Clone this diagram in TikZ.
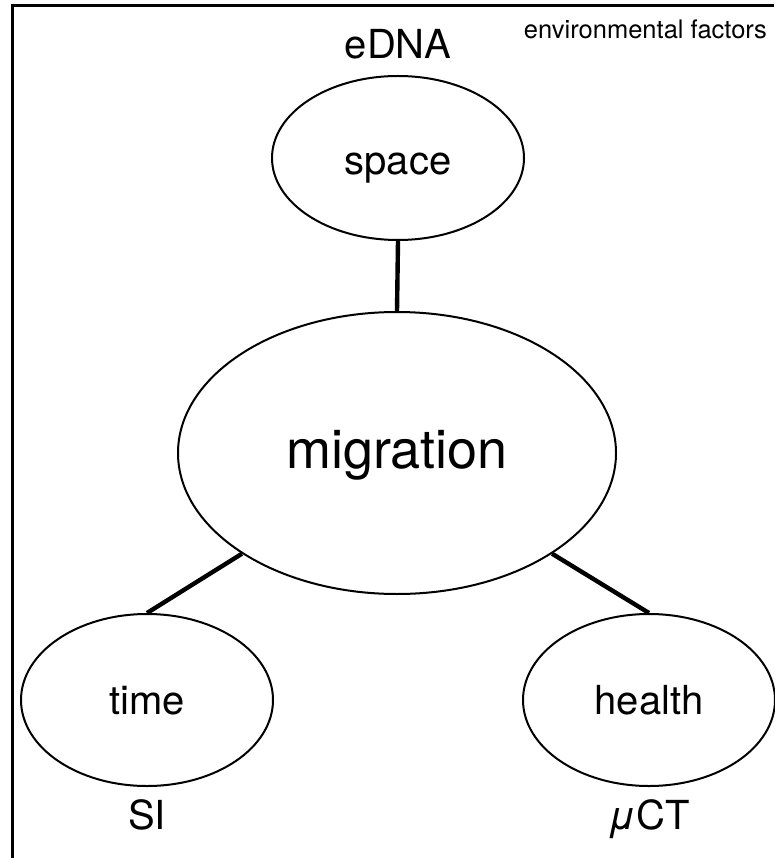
\documentclass[tikz,border=0pt]{standalone}
\usepackage{fontspec}
\setmainfont{TeX Gyre Heros}
\usepackage{tikz}
\usetikzlibrary{shapes.geometric, positioning}

\tikzset{
    factor/.style={draw, ellipse, line width=2pt, inner sep=0pt,
        minimum width=252pt, minimum height=172pt, text height=28pt, text depth=0pt,
        font=\fontsize{40}{44}\selectfont},
    method/.style={inner sep=0pt, font=\fontsize{40}{44}\selectfont},
    link/.style={line width=4.4pt}
}

\begin{document}
\begin{tikzpicture}[x=1pt, y=-1pt]
\useasboundingbox (0,0) rectangle (774,858);
% Frame (only left and top edges are in view)
\draw[line width=3pt] (12,858) |- (774,6);
\node[anchor=base east, inner sep=0pt, font=\fontsize{25.5}{28}\selectfont] (env) at (767,39) {environmental factors};

% Central node
\node[factor, minimum width=438pt, minimum height=282pt, text height=30pt,
    font=\fontsize{54}{60}\selectfont] (mig) at (397,453) {migration};

% Outer nodes
\node[factor, minimum height=164pt, text height=34pt] (space) at (398,158) {space};
\node[factor] (time) at (147,700) {time};
\node[factor] (health) at (649,700) {health};

% Methods
\node[method, above=16pt of space] (edna) {eDNA};
\node[method, below=12pt of time] (si) {SI};
\node[method, below=12pt of health] (uct) {{\itshape μ}CT};

% Links
\draw[link] (space.south) -- (mig.north);
\draw[link] (mig.213) -- (time.north);
\draw[link] (mig.-33) -- (health.north);
\end{tikzpicture}
\end{document}
